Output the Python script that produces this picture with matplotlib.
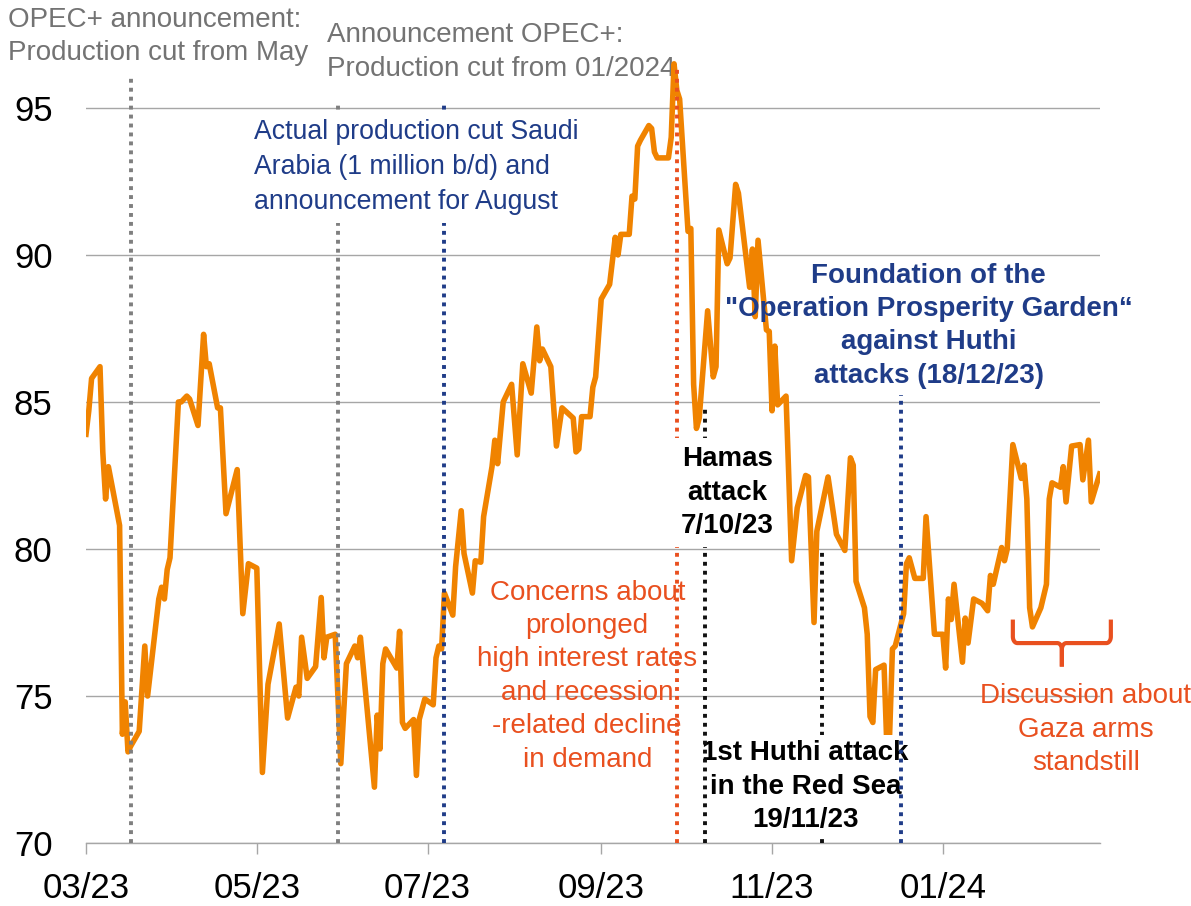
import numpy as np
import pandas as pd
import matplotlib
matplotlib.use("Agg")
import matplotlib.pyplot as plt
import matplotlib.dates as mdates

plt.rcParams["font.family"] = ["Liberation Sans", "DejaVu Sans"]

# ── Brent price (USD/bbl) ────────────────────────────────────────────────────
DATES = [
    "2023-03-01", "2023-03-02", "2023-03-03", "2023-03-06", "2023-03-07", "2023-03-08",
    "2023-03-09", "2023-03-13", "2023-03-14", "2023-03-15", "2023-03-16", "2023-03-17",
    "2023-03-20", "2023-03-22", "2023-03-23", "2023-03-27", "2023-03-28", "2023-03-29",
    "2023-03-30", "2023-03-31",
    "2023-04-03", "2023-04-04", "2023-04-06", "2023-04-07", "2023-04-10", "2023-04-12",
    "2023-04-13", "2023-04-14", "2023-04-17", "2023-04-18", "2023-04-20", "2023-04-24",
    "2023-04-26", "2023-04-28",
    "2023-05-01", "2023-05-03", "2023-05-05", "2023-05-09", "2023-05-12", "2023-05-15",
    "2023-05-16", "2023-05-17", "2023-05-19", "2023-05-22", "2023-05-24", "2023-05-25",
    "2023-05-26", "2023-05-29", "2023-05-31",
    "2023-06-02", "2023-06-05", "2023-06-06", "2023-06-07", "2023-06-12", "2023-06-13",
    "2023-06-14", "2023-06-15", "2023-06-16", "2023-06-20", "2023-06-21", "2023-06-22",
    "2023-06-23", "2023-06-26", "2023-06-27", "2023-06-28", "2023-06-30",
    "2023-07-03", "2023-07-04", "2023-07-05", "2023-07-06", "2023-07-07", "2023-07-10",
    "2023-07-11", "2023-07-13", "2023-07-14", "2023-07-17", "2023-07-18", "2023-07-20",
    "2023-07-21", "2023-07-24", "2023-07-25", "2023-07-26", "2023-07-28", "2023-07-31",
    "2023-08-02", "2023-08-04", "2023-08-07", "2023-08-09", "2023-08-10", "2023-08-11",
    "2023-08-14", "2023-08-16", "2023-08-18", "2023-08-22", "2023-08-23", "2023-08-24",
    "2023-08-25", "2023-08-28", "2023-08-29", "2023-08-30",
    "2023-09-01", "2023-09-04", "2023-09-06", "2023-09-07", "2023-09-08", "2023-09-11",
    "2023-09-12", "2023-09-13", "2023-09-14", "2023-09-15", "2023-09-18", "2023-09-19",
    "2023-09-20", "2023-09-21", "2023-09-22", "2023-09-25", "2023-09-26", "2023-09-27",
    "2023-09-28", "2023-09-29",
    "2023-10-02", "2023-10-03", "2023-10-04", "2023-10-05", "2023-10-06", "2023-10-09",
    "2023-10-11", "2023-10-12", "2023-10-13", "2023-10-16", "2023-10-17", "2023-10-19",
    "2023-10-20", "2023-10-24", "2023-10-25", "2023-10-26", "2023-10-27", "2023-10-30",
    "2023-10-31",
    "2023-11-01", "2023-11-02", "2023-11-03", "2023-11-06", "2023-11-08", "2023-11-10",
    "2023-11-13", "2023-11-14", "2023-11-16", "2023-11-17", "2023-11-21", "2023-11-24",
    "2023-11-27", "2023-11-29", "2023-11-30",
    "2023-12-01", "2023-12-04", "2023-12-05", "2023-12-06", "2023-12-07", "2023-12-08",
    "2023-12-11", "2023-12-12", "2023-12-13", "2023-12-14", "2023-12-15", "2023-12-18",
    "2023-12-19", "2023-12-20", "2023-12-22", "2023-12-25", "2023-12-26", "2023-12-29",
    "2024-01-01", "2024-01-02", "2024-01-03", "2024-01-04", "2024-01-05", "2024-01-08",
    "2024-01-09", "2024-01-10", "2024-01-12", "2024-01-15", "2024-01-17", "2024-01-18",
    "2024-01-19", "2024-01-22", "2024-01-23", "2024-01-24", "2024-01-26", "2024-01-29",
    "2024-01-30", "2024-01-31",
    "2024-02-01", "2024-02-02", "2024-02-05", "2024-02-07", "2024-02-08", "2024-02-09",
    "2024-02-12", "2024-02-13", "2024-02-14", "2024-02-16", "2024-02-19", "2024-02-20",
    "2024-02-22", "2024-02-23", "2024-02-26",
]
BRENT = [
    83.9, 84.7, 85.8, 86.2, 83.3, 81.7,
    82.8, 80.8, 73.7, 74.8, 73.1, 73.3,
    73.8, 76.7, 75.0, 78.3, 78.7, 78.3,
    79.3, 79.7,
    85.0, 85.0, 85.2, 85.1, 84.2, 87.3,
    86.2, 86.3, 84.8, 84.8, 81.2, 82.7,
    77.8, 79.5,
    79.35, 72.4, 75.4, 77.45, 74.25, 75.3,
    75.0, 77.0, 75.6, 76.0, 78.35, 76.3,
    77.0, 77.1, 72.7,
    76.1, 76.7, 76.3, 77.0, 71.9, 74.35,
    73.2, 76.1, 76.6, 75.95, 77.2, 74.1,
    73.9, 74.2, 72.3, 74.2, 74.9,
    74.7, 76.3, 76.7, 76.6, 78.5, 77.75,
    79.4, 81.3, 79.85, 78.5, 79.6, 79.55,
    81.1, 82.8, 83.7, 82.9, 85.0, 85.6,
    83.2, 86.3, 85.3, 87.55, 86.4, 86.8,
    86.2, 83.5, 84.8, 84.45, 83.3, 83.4,
    84.5, 84.5, 85.5, 85.85,
    88.5, 89.0, 90.6, 90.0, 90.7, 90.7,
    92.0, 91.9, 93.7, 93.9, 94.4, 94.3,
    93.5, 93.3, 93.3, 93.3, 94.0, 96.5,
    95.6, 95.3,
    90.8, 90.9, 85.6, 84.1, 84.45, 88.1,
    85.85, 86.2, 90.85, 89.7, 89.9, 92.4,
    92.1, 88.9, 90.2, 87.9, 90.5, 87.45,
    87.4,
    84.7, 86.9, 84.9, 85.2, 79.6, 81.4,
    82.5, 82.45, 77.5, 80.6, 82.45, 80.5,
    79.95, 83.1, 82.85,
    78.9, 78.0, 77.1, 74.3, 74.1, 75.9,
    76.05, 73.3, 73.7, 76.6, 76.7, 77.8,
    79.5, 79.7, 79.0, 79.0, 81.1, 77.1,
    77.1, 75.95, 78.3, 77.6, 78.8, 76.15,
    77.65, 76.8, 78.3, 78.15, 77.9, 79.1,
    78.8, 80.05, 79.6, 80.0, 83.55, 82.4,
    82.85, 81.7,
    78.0, 77.35, 78.0, 78.8, 81.7, 82.25,
    82.1, 82.8, 81.6, 83.5, 83.55, 82.35,
    83.7, 81.6, 82.55,
]

# ── Event markers (dotted verticals) ─────────────────────────────────────────
EVENT_DATES  = ["2023-03-17", "2023-05-30", "2023-07-07", "2023-09-28",
                "2023-10-08", "2023-11-19", "2023-12-17"]
EVENT_TOPS   = [96.1, 95.1, 95.1, 96.35, 84.8, 79.9, 85.25]
EVENT_COLORS = ["#7f7f7f", "#7f7f7f", "#1f3c88", "#e9501f",
                "#111111", "#111111", "#1f3c88"]
EVENT_Z      = [4, 4, 4, 4, 6, 4, 6]

ORANGE = "#f08300"
BLUE = "#1f3c88"
RED = "#e9501f"
GREY_TXT = "#737373"
GRID = "#a6a6a6"

FS = 20
LS = 1.37


def draw_brace(ax, start, end, y_end, y_bar, y_tip, color):
    x0, x1 = mdates.datestr2num(start), mdates.datestr2num(end)
    xm = (x0 + x1) / 2
    rx, ry = 1.6, 0.22
    a1 = np.linspace(np.pi, 1.5 * np.pi, 10)
    a2 = np.linspace(0.5 * np.pi, 0, 10)
    xs = np.concatenate([[x0], x0 + rx + rx * np.cos(a1), xm - rx + rx * np.cos(a2), [xm]])
    ys = np.concatenate([[y_end], y_bar + ry + ry * np.sin(a1), y_bar - ry + ry * np.sin(a2), [y_tip]])
    for xx in (xs, x0 + x1 - xs):
        ax.plot(xx, ys, color=color, lw=3, clip_on=False, zorder=5,
                solid_capstyle="butt")


def main():
    fig = plt.figure(figsize=(11.91, 9.06), dpi=100)
    ax = fig.add_axes([0.0722, 0.0695, 0.8511, 0.9305])

    dates = pd.to_datetime(DATES)
    ax.plot(dates, BRENT, color=ORANGE, lw=4, zorder=3)

    for d, top, c, z in zip(EVENT_DATES, EVENT_TOPS, EVENT_COLORS, EVENT_Z):
        ax.plot([pd.Timestamp(d)] * 2, [70, top], color=c, lw=2.8,
                linestyle=(0, (1, 1.3)), zorder=z, clip_on=False)

    ax.set_xlim(pd.Timestamp("2023-03-01"), pd.Timestamp("2024-02-26"))
    ax.set_ylim(70, 98.67)
    ax.set_yticks([70, 75, 80, 85, 90, 95])
    ax.yaxis.grid(True, color=GRID, lw=1)
    ax.set_axisbelow(True)
    ax.xaxis.set_major_locator(mdates.MonthLocator(bymonth=[1, 3, 5, 7, 9, 11]))
    ax.xaxis.set_major_formatter(mdates.DateFormatter("%m/%y"))
    for s in ("top", "right", "left"):
        ax.spines[s].set_visible(False)
    ax.spines["bottom"].set_color(GRID)
    ax.spines["bottom"].set_linewidth(1)
    ax.tick_params(axis="x", length=8, width=1, color=GRID, pad=13, labelsize=25)
    ax.tick_params(axis="y", length=0, pad=24, labelsize=25)

    # ── Annotations (anchored at the baseline of their last line) ────────────
    ts = pd.Timestamp
    ax.text(ts("2023-02-01"), 96.63, "OPEC+ announcement:\nProduction cut from May",
            color=GREY_TXT, fontsize=FS, ha="left", va="baseline",
            linespacing=LS, clip_on=False, zorder=7)
    ax.text(ts("2023-05-26"), 96.10, "Announcement OPEC+:\nProduction cut from 01/2024",
            color=GREY_TXT, fontsize=FS, ha="left", va="baseline",
            linespacing=LS, clip_on=False, zorder=2)
    ax.text(ts("2023-04-30"), 91.56,
            "Actual production cut Saudi\nArabia (1 million b/d) and\nannouncement for August",
            color=BLUE, fontsize=19.2, ha="left", va="baseline", linespacing=1.44,
            zorder=5, bbox=dict(facecolor="white", edgecolor="none", pad=6))
    ax.text(ts("2023-12-27"), 85.65,
            "Foundation of the\n\"Operation Prosperity Garden“\nagainst Huthi\nattacks (18/12/23)",
            color=BLUE, fontsize=FS, fontweight="bold", ha="center", va="baseline",
            linespacing=LS, zorder=7)
    ax.text(ts("2023-10-16"), 80.54, "Hamas\nattack\n7/10/23",
            color="black", fontsize=FS, fontweight="bold", ha="center", va="baseline",
            linespacing=LS, zorder=7,
            bbox=dict(facecolor="white", edgecolor="none", pad=6))
    ax.text(ts("2023-08-27"), 72.60,
            "Concerns about\nprolonged\nhigh interest rates\nand recession\n-related decline\nin demand",
            color=RED, fontsize=FS, ha="center", va="baseline", linespacing=LS, zorder=7)
    ax.text(ts("2023-11-13"), 70.54, "1st Huthi attack\nin the Red Sea\n19/11/23",
            color="black", fontsize=FS, fontweight="bold", ha="center", va="baseline",
            linespacing=LS, zorder=5,
            bbox=dict(facecolor="white", edgecolor="none", pad=4))
    ax.text(ts("2024-02-21"), 72.48, "Discussion about\nGaza arms\nstandstill",
            color=RED, fontsize=FS, ha="center", va="baseline", linespacing=LS,
            clip_on=False, zorder=7)

    draw_brace(ax, "2024-01-26", "2024-03-01", 77.6, 76.8, 76.0, RED)

    fig.savefig("out.png", dpi=100)
    plt.close(fig)


if __name__ == "__main__":
    main()
